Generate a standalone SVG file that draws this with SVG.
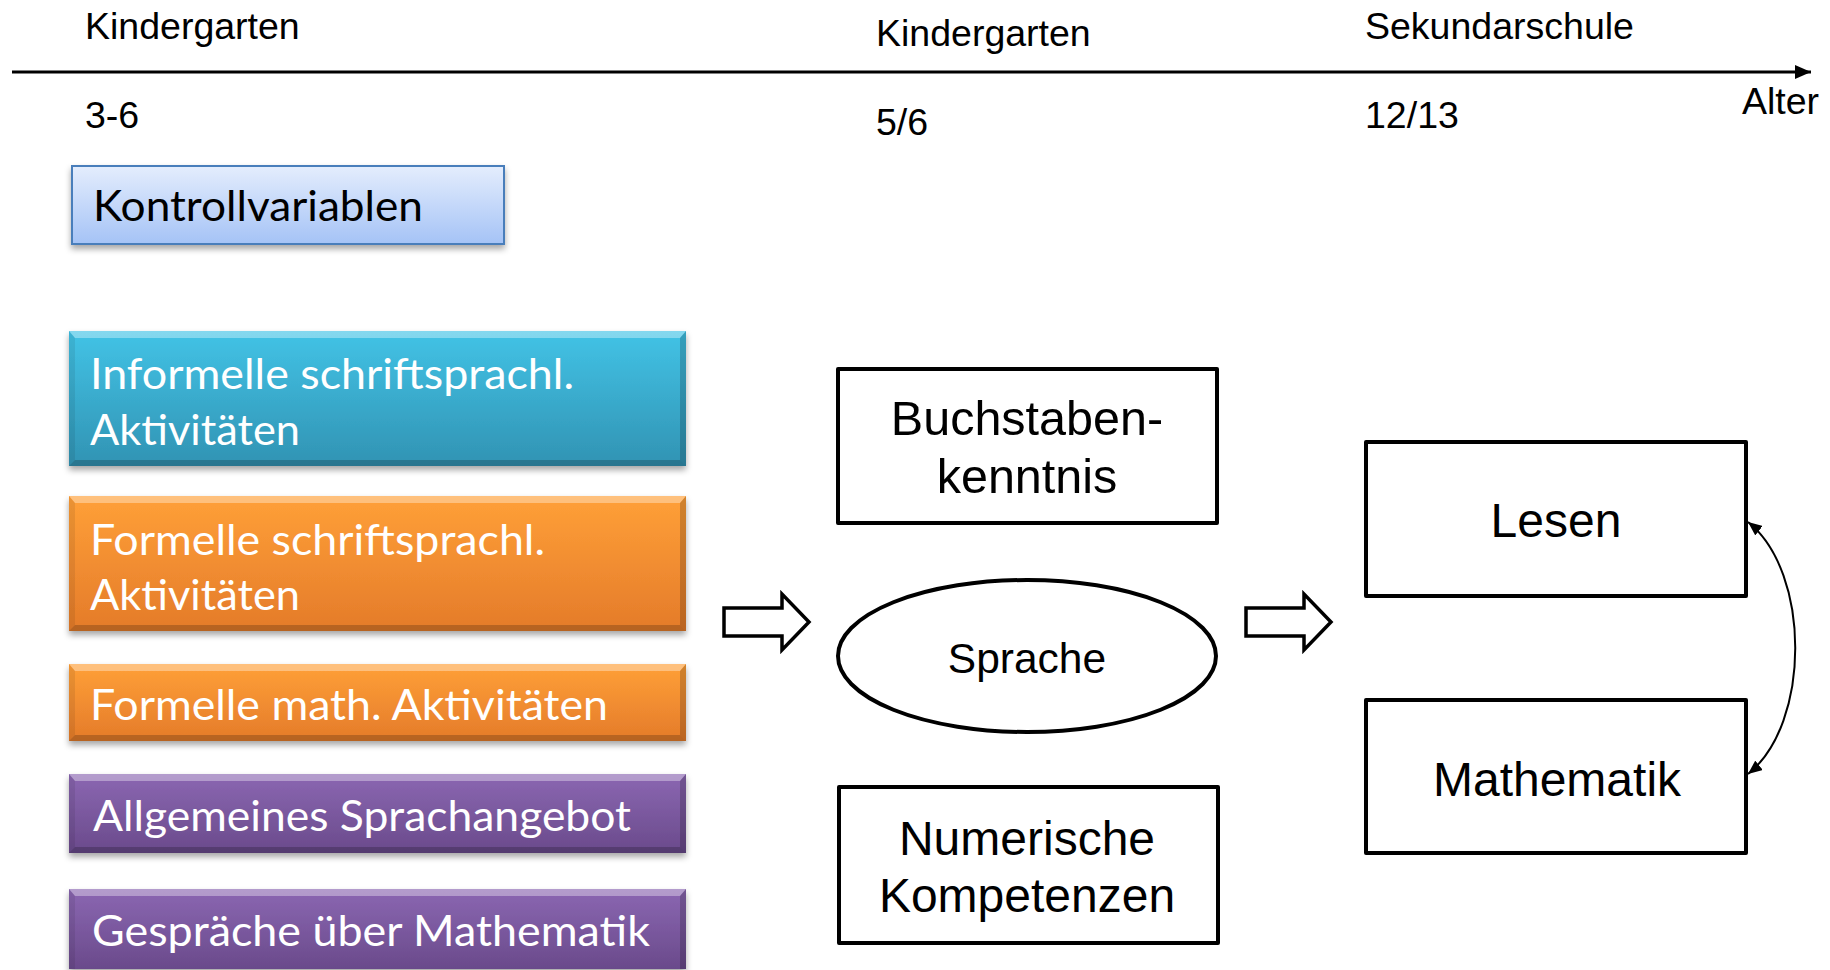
<svg xmlns="http://www.w3.org/2000/svg" width="1830" height="970" viewBox="0 0 1830 970">
<style>
.ar{font-family:"Liberation Sans",Arial,sans-serif;fill:#000}
.t36{font-size:37.5px}
.t46{font-size:48px}
.cb{font-family:Lato,"Open Sans",sans-serif;font-size:43px;fill:#fff}
.cbk{font-family:Lato,"Open Sans",sans-serif;font-size:43px;fill:#000}
.box{fill:#fff;stroke:#000;stroke-width:4;stroke-linejoin:round}
.bt{fill:#fff;fill-opacity:.35}
.bb{fill:#000;fill-opacity:.2}
.bsl{fill:#000;fill-opacity:.08}
.bsr{fill:#000;fill-opacity:.18}
.blk{fill:#fff;stroke:#000;stroke-width:3.5;stroke-linejoin:miter}
</style>
<defs>
<linearGradient id="gKV" x1="0" y1="0" x2="0" y2="1"><stop offset="0" stop-color="#e4edfd"/><stop offset="1" stop-color="#a5c3f6"/></linearGradient>
<linearGradient id="gCy" x1="0" y1="0" x2="0" y2="1"><stop offset="0" stop-color="#42c3e6"/><stop offset="1" stop-color="#3193b3"/></linearGradient>
<linearGradient id="gOr" x1="0" y1="0" x2="0" y2="1"><stop offset="0" stop-color="#ffa038"/><stop offset="1" stop-color="#e47b2a"/></linearGradient>
<linearGradient id="gPu" x1="0" y1="0" x2="0" y2="1"><stop offset="0" stop-color="#8b67b2"/><stop offset="1" stop-color="#6a4a8b"/></linearGradient>
<filter id="sh" x="-5%" y="-20%" width="110%" height="150%"><feDropShadow dx="0" dy="4" stdDeviation="3" flood-color="#000" flood-opacity=".35"/></filter>
<marker id="tip" viewBox="0 0 16 14" refX="16" refY="7" markerWidth="16" markerHeight="14" markerUnits="userSpaceOnUse" orient="auto"><path d="M0 0L16 7L0 14z" fill="#000"/></marker>
<marker id="tip2" viewBox="0 0 14 12" refX="14" refY="6" markerWidth="14" markerHeight="12" markerUnits="userSpaceOnUse" orient="auto-start-reverse"><path d="M0 0L14 6L0 12z" fill="#000"/></marker>
</defs>
<rect width="1830" height="970" fill="#fff"/>

<g id="timeline">
<line x1="12" y1="72" x2="1811" y2="72" stroke="#000" stroke-width="3" marker-end="url(#tip)"/>
<text class="ar t36" x="85" y="39">Kindergarten</text>
<text class="ar t36" x="85" y="128">3-6</text>
<text class="ar t36" x="876" y="46">Kindergarten</text>
<text class="ar t36" x="876" y="135">5/6</text>
<text class="ar t36" x="1365" y="39">Sekundarschule</text>
<text class="ar t36" x="1365" y="128">12/13</text>
<text class="ar t36" x="1742" y="114">Alter</text>
</g>

<g id="kontrollvariablen">
<rect x="72" y="166" width="432" height="78" fill="url(#gKV)" stroke="#4a7ebb" stroke-width="2" filter="url(#sh)"/>
<text class="cbk" x="93" y="221" textLength="330" lengthAdjust="spacingAndGlyphs">Kontrollvariablen</text>
</g>

<g id="informelle">
<g filter="url(#sh)"><rect x="69" y="331" width="617" height="135" fill="url(#gCy)"/></g>
<polygon class="bt" points="69,331 686,331 680,338 75,338"/>
<polygon class="bsl" points="69,331 75,338 75,460 69,466"/>
<polygon class="bsr" points="686,331 680,338 680,460 686,466"/>
<polygon class="bb" points="69,466 686,466 680,460 75,460"/>
<text class="cb" x="90" y="389" textLength="484" lengthAdjust="spacingAndGlyphs">Informelle schriftsprachl.</text>
<text class="cb" x="90" y="445" textLength="210" lengthAdjust="spacingAndGlyphs">Aktivitäten</text>
</g>

<g id="formelle-schrift">
<g filter="url(#sh)"><rect x="69" y="496" width="617" height="135" fill="url(#gOr)"/></g>
<polygon class="bt" points="69,496 686,496 680,503 75,503"/>
<polygon class="bsl" points="69,496 75,503 75,625 69,631"/>
<polygon class="bsr" points="686,496 680,503 680,625 686,631"/>
<polygon class="bb" points="69,631 686,631 680,625 75,625"/>
<text class="cb" x="90" y="555" textLength="455" lengthAdjust="spacingAndGlyphs">Formelle schriftsprachl.</text>
<text class="cb" x="90" y="610" textLength="210" lengthAdjust="spacingAndGlyphs">Aktivitäten</text>
</g>

<g id="formelle-math">
<g filter="url(#sh)"><rect x="69" y="664" width="617" height="77" fill="url(#gOr)"/></g>
<polygon class="bt" points="69,664 686,664 680,671 75,671"/>
<polygon class="bsl" points="69,664 75,671 75,735 69,741"/>
<polygon class="bsr" points="686,664 680,671 680,735 686,741"/>
<polygon class="bb" points="69,741 686,741 680,735 75,735"/>
<text class="cb" x="90" y="720" textLength="518" lengthAdjust="spacingAndGlyphs">Formelle math. Aktivitäten</text>
</g>

<g id="sprachangebot">
<g filter="url(#sh)"><rect x="69" y="774" width="617" height="79" fill="url(#gPu)"/></g>
<polygon class="bt" points="69,774 686,774 680,781 75,781"/>
<polygon class="bsl" points="69,774 75,781 75,847 69,853"/>
<polygon class="bsr" points="686,774 680,781 680,847 686,853"/>
<polygon class="bb" points="69,853 686,853 680,847 75,847"/>
<text class="cb" x="93" y="831" textLength="538" lengthAdjust="spacingAndGlyphs">Allgemeines Sprachangebot</text>
</g>

<g id="gespraeche">
<g filter="url(#sh)"><rect x="69" y="889" width="617" height="80" fill="url(#gPu)"/></g>
<polygon class="bt" points="69,889 686,889 680,896 75,896"/>
<polygon class="bsl" points="69,889 75,896 75,969 69,969"/>
<polygon class="bsr" points="686,889 680,896 680,969 686,969"/>
<text class="cb" x="92" y="946" textLength="558" lengthAdjust="spacingAndGlyphs">Gespräche über Mathematik</text>
</g>

<g id="buchstabenkenntnis">
<rect class="box" x="838" y="369" width="379" height="154"/>
<text class="ar" font-size="48.5" x="1027" y="435" text-anchor="middle">Buchstaben-</text>
<text class="ar" font-size="48.5" x="1027" y="493" text-anchor="middle">kenntnis</text>
</g>

<g id="sprache">
<ellipse cx="1027" cy="656" rx="189" ry="76" fill="#fff" stroke="#000" stroke-width="4"/>
<text class="ar" font-size="42.5" x="1027" y="673" text-anchor="middle">Sprache</text>
</g>

<g id="numerische">
<rect class="box" x="839" y="787" width="379" height="156"/>
<text class="ar t46" x="1027" y="855" text-anchor="middle">Numerische</text>
<text class="ar t46" x="1027" y="912" text-anchor="middle">Kompetenzen</text>
</g>

<g id="lesen">
<rect class="box" x="1366" y="442" width="380" height="154"/>
<text class="ar t46" x="1556" y="537" text-anchor="middle">Lesen</text>
</g>

<g id="mathematik">
<rect class="box" x="1366" y="700" width="380" height="153"/>
<text class="ar t46" x="1557" y="796" text-anchor="middle">Mathematik</text>
</g>

<g id="connectors">
<polygon class="blk" points="724,608 782,608 782,594 809,622 782,650 782,636 724,636"/>
<polygon class="blk" points="1246,608 1304,608 1304,594 1331,622 1304,650 1304,636 1246,636"/>
<path d="M1748 522 C1811 572 1811 724 1748 774" fill="none" stroke="#000" stroke-width="2" marker-start="url(#tip2)" marker-end="url(#tip2)"/>
</g>
</svg>
